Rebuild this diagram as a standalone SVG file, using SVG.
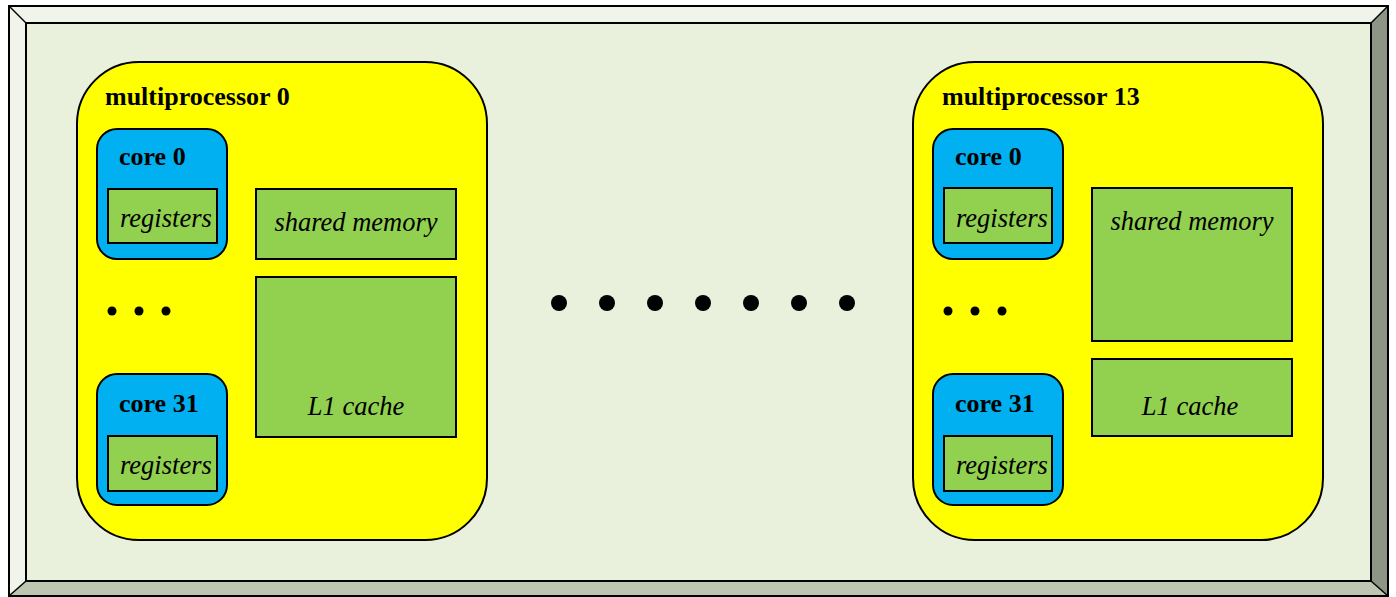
<svg xmlns="http://www.w3.org/2000/svg" width="1396" height="597" viewBox="0 0 1396 597">
  <style>
    .mp { fill: #FFFF00; stroke: #000; stroke-width: 2; }
    .core { fill: #00B0F0; stroke: #000; stroke-width: 2; }
    .box { fill: #92D050; stroke: #000; stroke-width: 2; }
    .title { font-family: "Liberation Serif", "Times New Roman", serif; font-weight: bold; font-size: 26px; fill: #000; }
    .lbl { font-family: "Liberation Serif", "Times New Roman", serif; font-style: italic; font-size: 26.5px; fill: #000; }
    .dot { fill: #000; }
  </style>

  <!-- bevelled frame -->
  <g id="frame">
    <rect x="0" y="0" width="1396" height="597" fill="#FFFFFF"/>
    <polygon points="9,6 1388,6 1371,23 26,23" fill="#F1F4EA"/>
    <polygon points="9,6 26,23 26,581 9,596" fill="#F1F4EA"/>
    <polygon points="26,581 1371,581 1388,596 9,596" fill="#BEC5B0"/>
    <polygon points="1371,23 1388,6 1388,596 1371,581" fill="#8D9685"/>
    <rect x="26" y="23" width="1345" height="558" fill="#E9F0DC" stroke="#000" stroke-width="2"/>
    <rect x="9" y="6" width="1379" height="590" fill="none" stroke="#000" stroke-width="2"/>
    <line x1="9" y1="6" x2="26" y2="23" stroke="#000" stroke-width="1.5"/>
    <line x1="1388" y1="6" x2="1371" y2="23" stroke="#000" stroke-width="1.5"/>
    <line x1="9" y1="596" x2="26" y2="581" stroke="#000" stroke-width="1.5"/>
    <line x1="1388" y1="596" x2="1371" y2="581" stroke="#000" stroke-width="1.5"/>
  </g>

  <!-- multiprocessor 0 -->
  <g id="mp0">
    <rect class="mp" x="77" y="62" width="410" height="478" rx="62" ry="62"/>
    <text class="title" x="105" y="105">multiprocessor 0</text>
  </g>
  <g id="mp0-core0">
    <rect class="core" x="97" y="129" width="130" height="130" rx="20" ry="20"/>
    <text class="title" x="119" y="165">core 0</text>
    <rect class="box" x="108" y="189" width="109" height="54"/>
    <text class="lbl" x="120" y="227">registers</text>
  </g>
  <g id="mp0-dots">
    <circle class="dot" cx="112" cy="311" r="4.5"/>
    <circle class="dot" cx="139" cy="311" r="4.5"/>
    <circle class="dot" cx="166" cy="311" r="4.5"/>
  </g>
  <g id="mp0-core31">
    <rect class="core" x="97" y="374" width="130" height="131" rx="20" ry="20"/>
    <text class="title" x="119" y="412">core 31</text>
    <rect class="box" x="108" y="436" width="109" height="55"/>
    <text class="lbl" x="120" y="474">registers</text>
  </g>
  <g id="mp0-shared">
    <rect class="box" x="256" y="189" width="200" height="70"/>
    <text class="lbl" x="356" y="231" text-anchor="middle">shared memory</text>
  </g>
  <g id="mp0-l1">
    <rect class="box" x="256" y="277" width="200" height="160"/>
    <text class="lbl" x="356" y="415" text-anchor="middle">L1 cache</text>
  </g>

  <!-- ellipsis between multiprocessors -->
  <g id="ellipsis">
    <circle class="dot" cx="559" cy="303" r="8"/>
    <circle class="dot" cx="607" cy="303" r="8"/>
    <circle class="dot" cx="655" cy="303" r="8"/>
    <circle class="dot" cx="703" cy="303" r="8"/>
    <circle class="dot" cx="751" cy="303" r="8"/>
    <circle class="dot" cx="799" cy="303" r="8"/>
    <circle class="dot" cx="847" cy="303" r="8"/>
  </g>

  <!-- multiprocessor 13 -->
  <g id="mp13">
    <rect class="mp" x="913" y="62" width="410" height="478" rx="62" ry="62"/>
    <text class="title" x="942" y="105">multiprocessor 13</text>
  </g>
  <g id="mp13-core0">
    <rect class="core" x="933" y="129" width="130" height="130" rx="20" ry="20"/>
    <text class="title" x="955" y="165">core 0</text>
    <rect class="box" x="944" y="188" width="108" height="55"/>
    <text class="lbl" x="956" y="227">registers</text>
  </g>
  <g id="mp13-dots">
    <circle class="dot" cx="948" cy="311" r="4.5"/>
    <circle class="dot" cx="975" cy="311" r="4.5"/>
    <circle class="dot" cx="1002" cy="311" r="4.5"/>
  </g>
  <g id="mp13-core31">
    <rect class="core" x="933" y="374" width="130" height="131" rx="20" ry="20"/>
    <text class="title" x="955" y="412">core 31</text>
    <rect class="box" x="944" y="436" width="108" height="55"/>
    <text class="lbl" x="956" y="474">registers</text>
  </g>
  <g id="mp13-shared">
    <rect class="box" x="1092" y="188" width="200" height="153"/>
    <text class="lbl" x="1192" y="230" text-anchor="middle">shared memory</text>
  </g>
  <g id="mp13-l1">
    <rect class="box" x="1092" y="359" width="200" height="77"/>
    <text class="lbl" x="1190" y="415" text-anchor="middle">L1 cache</text>
  </g>
</svg>
